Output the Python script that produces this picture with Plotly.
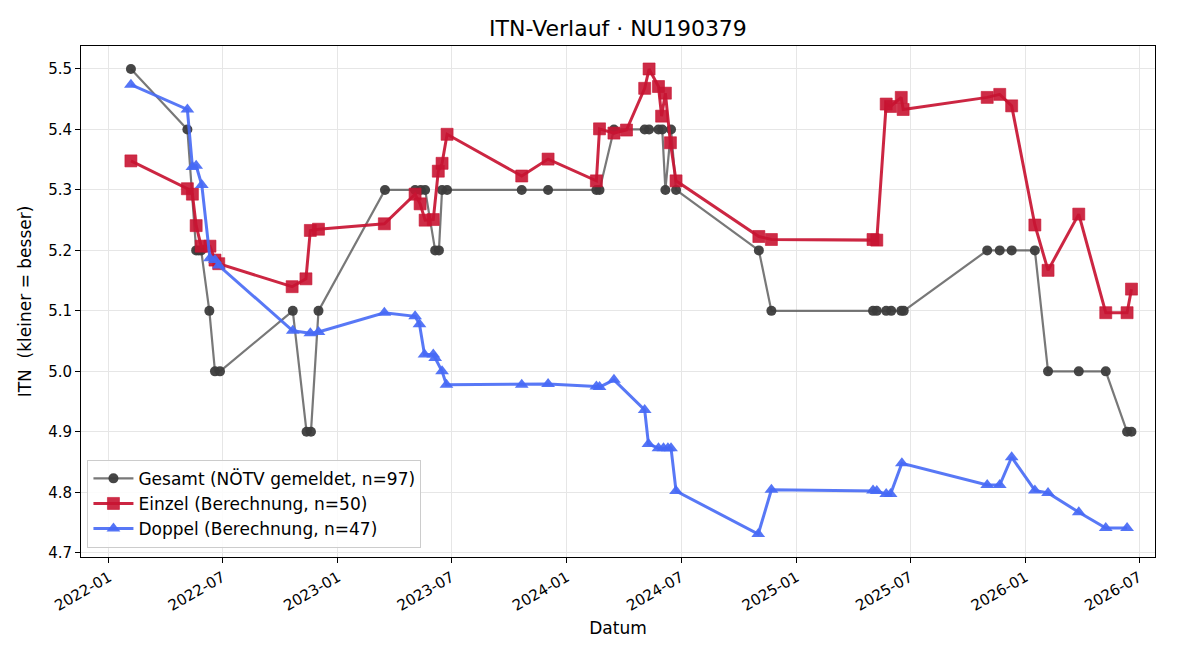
import plotly.graph_objects as go

# ---------------- data ----------------
gesamt_dates = [
    "2022-02-05", "2022-05-06", "2022-05-20", "2022-05-24", "2022-05-28", "2022-06-10",
    "2022-06-19", "2022-06-27", "2022-10-21", "2022-11-12", "2022-11-19", "2022-12-01",
    "2023-03-17", "2023-05-04", "2023-05-13", "2023-05-20", "2023-06-05", "2023-06-11",
    "2023-06-16", "2023-06-24", "2023-10-21", "2023-12-02", "2024-02-17", "2024-02-22",
    "2024-03-16", "2024-05-04", "2024-05-11", "2024-05-26", "2024-06-01", "2024-06-06",
    "2024-06-15", "2024-06-23", "2024-11-02", "2024-11-22", "2025-05-03", "2025-05-09",
    "2025-05-24", "2025-06-01", "2025-06-17", "2025-06-21", "2025-11-01", "2025-11-21",
    "2025-12-10", "2026-01-16", "2026-02-06", "2026-03-27", "2026-05-09", "2026-06-12",
    "2026-06-19",
]
gesamt_values = [
    5.5, 5.4, 5.2, 5.2, 5.2, 5.1,
    5.0, 5.0, 5.1, 4.9, 4.9, 5.1,
    5.3, 5.3, 5.3, 5.3, 5.2, 5.2,
    5.3, 5.3, 5.3, 5.3, 5.3, 5.3,
    5.4, 5.4, 5.4, 5.4, 5.4, 5.3,
    5.4, 5.3, 5.2, 5.1, 5.1, 5.1,
    5.1, 5.1, 5.1, 5.1, 5.2, 5.2,
    5.2, 5.2, 5.0, 5.0, 5.0, 4.9,
    4.9,
]

einzel_dates = [
    "2022-02-05", "2022-05-06", "2022-05-14", "2022-05-20", "2022-05-28", "2022-06-11",
    "2022-06-19", "2022-06-25", "2022-10-20", "2022-11-11", "2022-11-18", "2022-12-01",
    "2023-03-16", "2023-05-04", "2023-05-12", "2023-05-20", "2023-06-02", "2023-06-10",
    "2023-06-16", "2023-06-24", "2023-10-21", "2023-12-02", "2024-02-17", "2024-02-22",
    "2024-03-16", "2024-04-05", "2024-05-04", "2024-05-11", "2024-05-26", "2024-05-31",
    "2024-06-06", "2024-06-14", "2024-06-23", "2024-11-02", "2024-11-22", "2025-05-03",
    "2025-05-09", "2025-05-24", "2025-05-31", "2025-06-17", "2025-06-20", "2025-11-01",
    "2025-11-21", "2025-12-10", "2026-01-16", "2026-02-06", "2026-03-27", "2026-05-09",
    "2026-06-12", "2026-06-19",
]
einzel_values = [
    5.348, 5.302, 5.293, 5.241, 5.207, 5.207,
    5.184, 5.178, 5.140, 5.153, 5.233, 5.235,
    5.244, 5.293, 5.277, 5.250, 5.251, 5.331,
    5.344, 5.392, 5.323, 5.351, 5.315, 5.401,
    5.394, 5.399, 5.468, 5.500, 5.471, 5.422,
    5.460, 5.378, 5.315, 5.223, 5.218, 5.218,
    5.217, 5.442, 5.438, 5.453, 5.433, 5.453,
    5.458, 5.439, 5.242, 5.167, 5.260, 5.097,
    5.097, 5.136,
]

doppel_dates = [
    "2022-02-05", "2022-05-06", "2022-05-14", "2022-05-20", "2022-05-29", "2022-06-11",
    "2022-06-19", "2022-06-25", "2022-10-21", "2022-11-18", "2022-12-01", "2023-03-16",
    "2023-05-04", "2023-05-11", "2023-05-19", "2023-06-02", "2023-06-05", "2023-06-16",
    "2023-06-23", "2023-10-21", "2023-12-02", "2024-02-17", "2024-02-22", "2024-03-16",
    "2024-05-04", "2024-05-10", "2024-05-26", "2024-06-03", "2024-06-10", "2024-06-15",
    "2024-06-23", "2024-11-01", "2024-11-22", "2025-05-03", "2025-05-09", "2025-05-24",
    "2025-05-31", "2025-06-18", "2025-11-01", "2025-11-21", "2025-12-10", "2026-01-16",
    "2026-02-06", "2026-03-27", "2026-05-09", "2026-06-12",
]
doppel_values = [
    5.474, 5.433, 5.338, 5.340, 5.308, 5.187,
    5.184, 5.175, 5.067, 5.063, 5.065, 5.097,
    5.091, 5.078, 5.028, 5.028, 5.022, 5.000,
    4.978, 4.978, 4.979, 4.975, 4.974, 4.986,
    4.936, 4.880, 4.873, 4.873, 4.873, 4.873,
    4.802, 4.731, 4.804, 4.803, 4.802, 4.797,
    4.797, 4.848, 4.812, 4.812, 4.858, 4.803,
    4.799, 4.767, 4.741, 4.741,
]

x_tick_dates = ["2022-01-01", "2022-07-01", "2023-01-01", "2023-07-01", "2024-01-01",
                "2024-07-01", "2025-01-01", "2025-07-01", "2026-01-01", "2026-07-01"]
x_tick_labels = ["2022-01", "2022-07", "2023-01", "2023-07", "2024-01",
                 "2024-07", "2025-01", "2025-07", "2026-01", "2026-07"]
y_ticks = [4.7, 4.8, 4.9, 5.0, 5.1, 5.2, 5.3, 5.4, 5.5]

FONT = "DejaVu Sans, Verdana, sans-serif"

fig = go.Figure()
fig.add_trace(go.Scatter(
    x=gesamt_dates, y=gesamt_values, mode="lines+markers",
    name="Gesamt (NÖTV gemeldet, n=97)",
    line=dict(color="rgba(68,68,68,0.72)", width=2.2),
    marker=dict(symbol="circle", size=10, color="rgba(60,60,60,0.95)", line=dict(width=0)),
))
fig.add_trace(go.Scatter(
    x=einzel_dates, y=einzel_values, mode="lines+markers",
    name="Einzel (Berechnung, n=50)",
    line=dict(color="rgba(200,20,50,0.92)", width=3),
    marker=dict(symbol="square", size=12, color="rgba(200,20,50,0.9)",
                line=dict(width=1, color="rgba(200,20,50,0.6)")),
))
fig.add_trace(go.Scatter(
    x=doppel_dates, y=doppel_values, mode="lines+markers",
    name="Doppel (Berechnung, n=47)",
    line=dict(color="rgba(70,105,245,0.9)", width=3),
    marker=dict(symbol="triangle-up", size=12, color="rgba(70,105,245,0.92)", line=dict(width=0)),
))

fig.update_layout(
    width=1200, height=660,
    margin=dict(l=81, r=45, t=46, b=103),
    paper_bgcolor="white", plot_bgcolor="white",
    font=dict(family=FONT, color="black", size=15),
    title=dict(text="ITN-Verlauf · NU190379", x=0.515, xanchor="center",
               y=0.957, yanchor="middle", font=dict(size=22, family=FONT)),
    showlegend=True,
    legend=dict(x=0.006, y=0.018, xanchor="left", yanchor="bottom",
                bgcolor="rgba(255,255,255,0.85)", bordercolor="#cccccc", borderwidth=1,
                font=dict(size=17, family=FONT), tracegroupgap=0, itemwidth=40),
)
fig.update_xaxes(
    type="date", range=["2021-11-17 10:00", "2026-07-26 12:00"],
    tickvals=x_tick_dates, ticktext=x_tick_labels, tickangle=-30,
    tickfont=dict(size=15), ticks="outside", ticklen=5, tickcolor="black",
    showline=True, linecolor="black", linewidth=1, mirror=True,
    showgrid=True, gridcolor="#e6e6e6", gridwidth=1, zeroline=False,
    title=dict(text="Datum", font=dict(size=17), standoff=8),
)
fig.update_yaxes(
    range=[4.693, 5.538], tickvals=y_ticks, tickformat=".1f",
    tickfont=dict(size=15), ticks="outside", ticklen=5, tickcolor="black",
    showline=True, linecolor="black", linewidth=1, mirror=True,
    showgrid=True, gridcolor="#e6e6e6", gridwidth=1, zeroline=False,
    title=dict(text="ITN\u00a0 (kleiner = besser)", font=dict(size=17), standoff=12),
)

fig.write_html("out.html")
